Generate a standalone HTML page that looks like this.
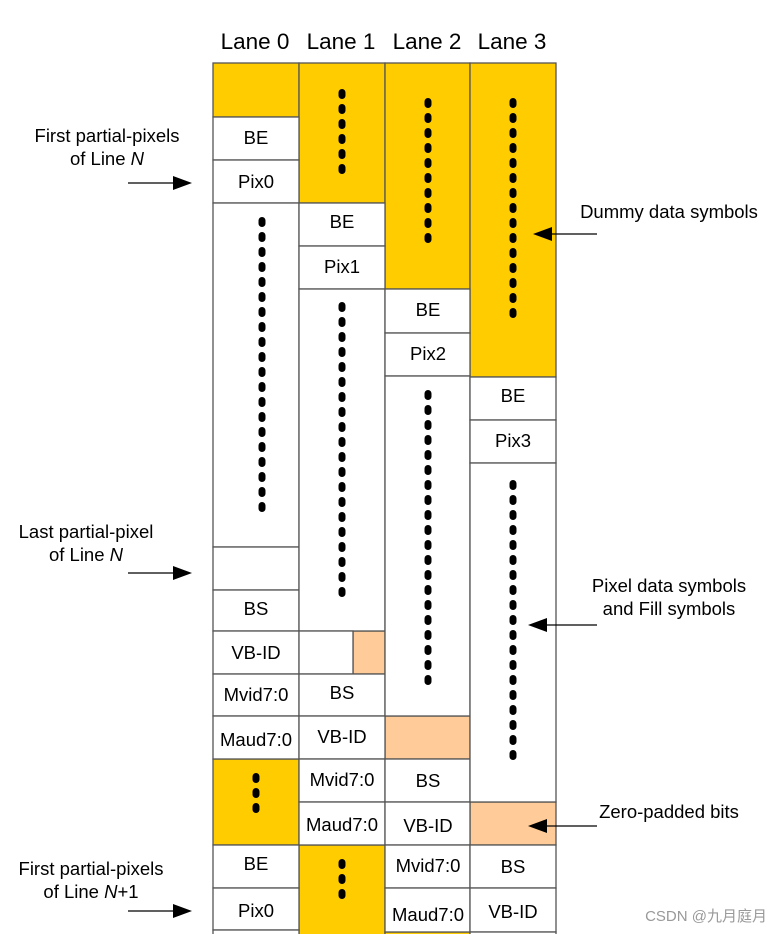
<!DOCTYPE html>
<html><head><meta charset="utf-8"><style>
html,body{margin:0;padding:0;background:#fff;}
svg{display:block;font-family:"Liberation Sans",Arial,sans-serif;}
</style></head><body>
<svg width="779" height="934" viewBox="0 0 779 934" xmlns="http://www.w3.org/2000/svg">
<defs>
<pattern id="d" patternUnits="userSpaceOnUse" width="7" height="15"><rect x="0" y="0" width="7" height="10" rx="3.5" fill="#000"/></pattern>
</defs>
<g font-size="22.5" fill="#000" text-anchor="middle">
<text x="255" y="49">Lane 0</text><text x="341" y="49">Lane 1</text><text x="427" y="49">Lane 2</text><text x="512" y="49">Lane 3</text>
</g>
<g stroke="#555" stroke-width="1.3">
<rect x="213" y="63" width="86" height="54" fill="#FFCC00"/>
<rect x="299" y="63" width="86" height="140" fill="#FFCC00"/>
<rect x="385" y="63" width="85" height="226" fill="#FFCC00"/>
<rect x="470" y="63" width="86" height="314" fill="#FFCC00"/>
<rect x="213" y="759" width="86" height="86" fill="#FFCC00"/>
<rect x="299" y="845" width="86" height="95" fill="#FFCC00"/>
<rect x="385" y="932" width="85" height="10" fill="#FFCC00"/>
<rect x="353" y="631" width="32" height="43" fill="#FFCC99"/>
<rect x="385" y="716" width="85" height="43" fill="#FFCC99"/>
<rect x="470" y="802" width="86" height="43" fill="#FFCC99"/>
<g fill="#fff">
<rect x="213" y="117" width="86" height="43"/><rect x="213" y="160" width="86" height="43"/>
<rect x="213" y="203" width="86" height="344"/><rect x="213" y="547" width="86" height="43"/>
<rect x="213" y="590" width="86" height="41"/><rect x="213" y="631" width="86" height="43"/>
<rect x="213" y="674" width="86" height="42"/><rect x="213" y="716" width="86" height="43"/>
<rect x="213" y="845" width="86" height="43"/><rect x="213" y="888" width="86" height="42"/>
<rect x="213" y="930" width="86" height="10"/>
<rect x="299" y="203" width="86" height="43"/><rect x="299" y="246" width="86" height="43"/>
<rect x="299" y="289" width="86" height="342"/><rect x="299" y="631" width="54" height="43"/>
<rect x="299" y="674" width="86" height="42"/><rect x="299" y="716" width="86" height="43"/>
<rect x="299" y="759" width="86" height="43"/><rect x="299" y="802" width="86" height="43"/>
<rect x="385" y="289" width="85" height="44"/><rect x="385" y="333" width="85" height="43"/>
<rect x="385" y="376" width="85" height="340"/>
<rect x="385" y="759" width="85" height="43"/><rect x="385" y="802" width="85" height="43"/>
<rect x="385" y="845" width="85" height="43"/><rect x="385" y="888" width="85" height="44"/>
<rect x="470" y="377" width="86" height="43"/><rect x="470" y="420" width="86" height="43"/>
<rect x="470" y="463" width="86" height="339"/>
<rect x="470" y="845" width="86" height="43"/><rect x="470" y="888" width="86" height="44"/>
<rect x="470" y="932" width="86" height="10"/>
</g>
</g>
<g transform="translate(258.5,217)"><rect width="7" height="300" fill="url(#d)"/></g>
<g transform="translate(338.5,89)"><rect width="7" height="88" fill="url(#d)"/></g>
<g transform="translate(338.5,302)"><rect width="7" height="297" fill="url(#d)"/></g>
<g transform="translate(424.5,98)"><rect width="7" height="145" fill="url(#d)"/></g>
<g transform="translate(424.5,390)"><rect width="7" height="300" fill="url(#d)"/></g>
<g transform="translate(509.5,98)"><rect width="7" height="225" fill="url(#d)"/></g>
<g transform="translate(509.5,480)"><rect width="7" height="285" fill="url(#d)"/></g>
<g transform="translate(252.5,773)"><rect width="7" height="40" fill="url(#d)"/></g>
<g transform="translate(338.5,859)"><rect width="7" height="40" fill="url(#d)"/></g>
<g font-size="18.5" text-anchor="middle" fill="#000">
<text x="256" y="144">BE</text><text x="256" y="188">Pix0</text>
<text x="256" y="615">BS</text><text x="256" y="659">VB-ID</text>
<text x="256" y="701">Mvid7:0</text><text x="256" y="746">Maud7:0</text>
<text x="256" y="870">BE</text><text x="256" y="917">Pix0</text>
<text x="342" y="228">BE</text><text x="342" y="273">Pix1</text>
<text x="342" y="699">BS</text><text x="342" y="743">VB-ID</text>
<text x="342" y="786">Mvid7:0</text><text x="342" y="831">Maud7:0</text>
<text x="428" y="316">BE</text><text x="428" y="360">Pix2</text>
<text x="428" y="787">BS</text><text x="428" y="832">VB-ID</text>
<text x="428" y="872">Mvid7:0</text><text x="428" y="921">Maud7:0</text>
<text x="513" y="402">BE</text><text x="513" y="447">Pix3</text>
<text x="513" y="873">BS</text><text x="513" y="918">VB-ID</text>
</g>
<g font-size="18.5" text-anchor="middle" fill="#000">
<text x="107" y="142">First partial-pixels</text><text x="107" y="165">of Line <tspan font-style="italic">N</tspan></text>
<text x="86" y="538">Last partial-pixel</text><text x="86" y="561">of Line <tspan font-style="italic">N</tspan></text>
<text x="91" y="875">First partial-pixels</text><text x="91" y="898">of Line <tspan font-style="italic">N</tspan>+1</text>
<text x="669" y="218">Dummy data symbols</text>
<text x="669" y="592">Pixel data symbols</text><text x="669" y="615">and Fill symbols</text>
<text x="669" y="818">Zero-padded bits</text>
</g>
<g stroke="#000" stroke-width="1.2">
<line x1="128" y1="183" x2="176" y2="183"/><line x1="128" y1="573" x2="176" y2="573"/><line x1="128" y1="911" x2="176" y2="911"/>
<line x1="550" y1="234" x2="597" y2="234"/><line x1="545" y1="625" x2="597" y2="625"/><line x1="545" y1="826" x2="597" y2="826"/>
</g>
<g fill="#000">
<polygon points="173,176 192,183 173,190"/><polygon points="173,566 192,573 173,580"/><polygon points="173,904 192,911 173,918"/>
<polygon points="552,227 533,234 552,241"/><polygon points="547,618 528,625 547,632"/><polygon points="547,819 528,826 547,833"/>
</g>
<text x="767" y="921" font-size="15" fill="#999" text-anchor="end" font-family="Liberation Sans, Noto Sans CJK SC, sans-serif">CSDN @九月庭月</text>
</svg>
</body></html>
